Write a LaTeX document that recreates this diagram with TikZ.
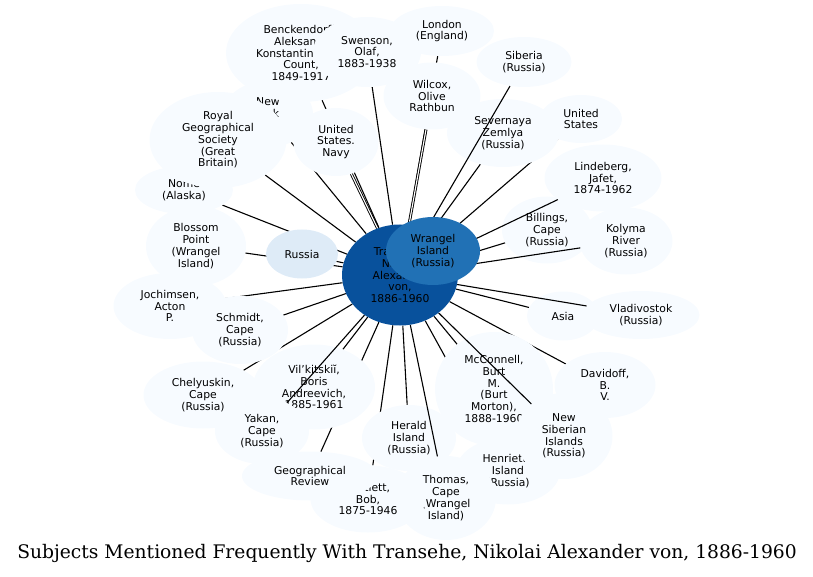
\documentclass[tikz,border=0pt]{standalone}
\usepackage{fontspec}
\setmainfont{DejaVu Sans}
\newfontfamily\captionserif{DejaVu Serif}
\usetikzlibrary{shapes.geometric}

\definecolor{paleblue}{HTML}{F7FBFF}
\definecolor{lightblue}{HTML}{DEEBF7}
\definecolor{midblue}{HTML}{2171B5}
\definecolor{deepblue}{HTML}{08519C}

\pgfdeclarelayer{background}
\pgfdeclarelayer{foreground}
\pgfsetlayers{background,main,foreground}

\begin{document}
\begin{tikzpicture}[x=1pt, y=-1pt,
    subject/.style={ellipse, fill=paleblue, inner sep=0pt, align=center,
                    font=\fontsize{10.8}{11.75}\selectfont},
    link/.style={line width=1.1pt},
    twin/.style={line width=0.9pt, double, double distance=1.1pt}]

    \useasboundingbox (0, 0) rectangle (813, 577);

    % Mittelpunkt
    \begin{pgfonlayer}{foreground}
    \node[subject, fill=deepblue, minimum width=116pt, minimum height=101pt] (transehe) at (400, 275)
        {Transehe,\\Nikolai\\Alexander\\von,\\1886-1960};
    \node[subject, fill=midblue, minimum width=94pt, minimum height=68pt] (wrangel) at (433, 251)
        {Wrangel\\Island\\(Russia)};
    \end{pgfonlayer}

    % oben links
    \node[subject, minimum width=90pt, minimum height=66pt] (newyork) at (268, 114) {New\\York\\(N.Y.)};
    \node[subject, minimum width=98pt, minimum height=48pt] (nome) at (184, 190) {Nome\\(Alaska)};
    \node[subject, minimum width=137pt, minimum height=96pt] (royal) at (218, 140)
        {Royal\\Geographical\\Society\\(Great\\Britain)};
    \node[subject, minimum width=85pt, minimum height=68pt] (navy) at (336, 142) {United\\States.\\Navy};
    \node[subject, minimum width=150pt, minimum height=98pt] (benck) at (301, 53)
        {Benckendorff,\\Aleksandr\\Konstantinovich,\\Count,\\1849-1917};
    \node[subject, minimum width=104pt, minimum height=50pt] (london) at (442, 31) {London\\(England)};
    \node[subject, minimum width=108pt, minimum height=70pt] (swenson) at (367, 52) {Swenson,\\Olaf,\\1883-1938};
    \node[subject, minimum width=97pt, minimum height=67pt] (wilcox) at (432, 96) {Wilcox,\\Olive\\Rathbun};

    % oben rechts
    \node[subject, minimum width=95pt, minimum height=50pt] (siberia) at (524, 62) {Siberia\\(Russia)};
    \node[subject, minimum width=112pt, minimum height=68pt] (severnaya) at (503, 133) {Severnaya\\Zemlya\\(Russia)};
    \node[subject, minimum width=82pt, minimum height=48pt] (unitedstates) at (581, 119) {United\\States};
    \node[subject, minimum width=117pt, minimum height=67pt] (lindeberg) at (603, 178) {Lindeberg,\\Jafet,\\1874-1962};
    \node[subject, minimum width=90pt, minimum height=67pt] (billings) at (547, 230) {Billings,\\Cape\\(Russia)};
    \node[subject, minimum width=93pt, minimum height=67pt] (kolyma) at (626, 241) {Kolyma\\River\\(Russia)};

    % links
    \node[subject, fill=lightblue, minimum width=72pt, minimum height=49pt] (russia) at (302, 254) {Russia};
    \node[subject, minimum width=100pt, minimum height=80pt] (blossom) at (196, 246) {Blossom\\Point\\(Wrangel\\Island)};
    \node[subject, minimum width=113pt, minimum height=66pt] (jochimsen) at (170, 306) {Jochimsen,\\Acton\\P.};
    \node[subject, minimum width=96pt, minimum height=68pt] (schmidt) at (240, 330) {Schmidt,\\Cape\\(Russia)};

    % rechts
    \node[subject, minimum width=72pt, minimum height=49pt] (asia) at (563, 316) {Asia};
    \node[subject, minimum width=117pt, minimum height=48pt] (vladivostok) at (641, 315) {Vladivostok\\(Russia)};
    \node[subject, minimum width=101pt, minimum height=66pt] (davidoff) at (605, 385) {Davidoff,\\B.\\V.};

    % unten
    \node[subject, minimum width=118pt, minimum height=114pt] (mcconnell) at (494, 389)
        {McConnell,\\Burt\\M.\\(Burt\\Morton),\\1888-1960};
    \node[subject, minimum width=104pt, minimum height=67pt] (henrietta) at (508, 471) {Henrietta\\Island\\(Russia)};
    \node[subject, minimum width=97pt, minimum height=86pt] (newsiberian) at (564, 436)
        {New\\Siberian\\Islands\\(Russia)};
    \node[subject, minimum width=94pt, minimum height=66pt] (herald) at (409, 438) {Herald\\Island\\(Russia)};
    \node[subject, minimum width=100pt, minimum height=84pt] (thomas) at (446, 498) {Thomas,\\Cape\\(Wrangel\\Island)};
    \node[subject, minimum width=115pt, minimum height=67pt] (bartlett) at (368, 499) {Bartlett,\\Bob,\\1875-1946};
    \node[subject, minimum width=136pt, minimum height=49pt] (georev) at (310, 476) {Geographical\\Review};
    \node[subject, minimum width=122pt, minimum height=85pt] (vilkitskii) at (314, 387)
        {Vil'kitskiĭ,\\Boris\\Andreevich,\\1885-1961};
    \node[subject, minimum width=119pt, minimum height=67pt] (chelyuskin) at (203, 395) {Chelyuskin,\\Cape\\(Russia)};
    \node[subject, minimum width=94pt, minimum height=66pt] (yakan) at (262, 431) {Yakan,\\Cape\\(Russia)};

    % Verbindungen hinter den Knoten
    \begin{pgfonlayer}{background}
    \foreach \n in {benck, swenson, london, newyork, royal, nome, severnaya, unitedstates, billings,
                    russia, blossom, jochimsen, schmidt, asia, davidoff, mcconnell, henrietta,
                    herald, bartlett, georev, chelyuskin, vilkitskii}
        \draw[link] (transehe) -- (\n);
    \draw[twin] (transehe) -- (wilcox);
    \draw[twin] (transehe) -- (navy);
    \end{pgfonlayer}

    % Verbindungen vor den Knoten
    \foreach \n in {siberia, lindeberg, kolyma, vladivostok, newsiberian, thomas, yakan}
        \draw[link] (transehe) -- (\n);

    % Titel
    \node[font=\captionserif\fontsize{18.7}{22}\selectfont] (title) at (407, 553)
        {Subjects Mentioned Frequently With Transehe, Nikolai Alexander von, 1886-1960};

\end{tikzpicture}
\end{document}
